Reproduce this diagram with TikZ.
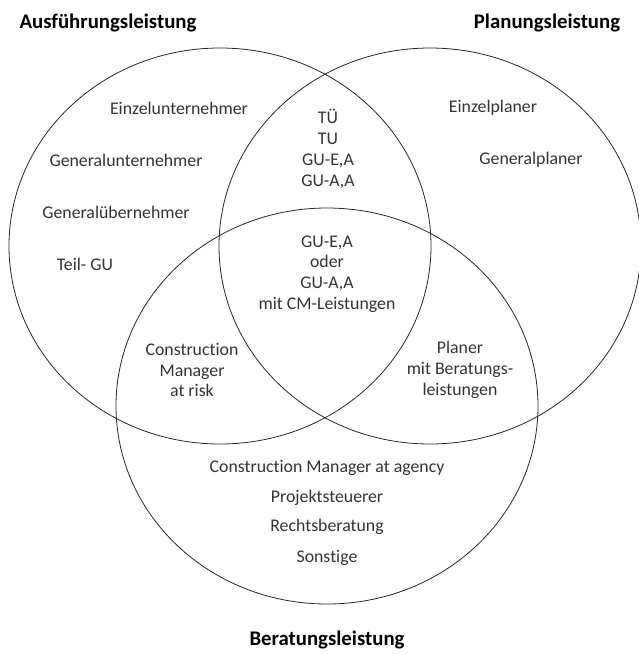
\documentclass[tikz,border=0pt]{standalone}
\usepackage{fontspec}
\setmainfont{Carlito}[Ligatures={NoCommon}]
\usetikzlibrary{shapes.geometric}
\begin{document}
\begin{tikzpicture}[x=1pt,y=-1pt,
  venn/.style={draw=black!85,line width=0.8pt,ellipse,inner sep=0pt,minimum width=422pt,minimum height=396pt},
  lbl/.style={font=\fontsize{17.8}{20.7}\selectfont,text=black!80,align=center,inner sep=0pt},
  ttl/.style={font=\fontsize{20.8}{24}\selectfont\bfseries,text=black,inner sep=0pt}]
\useasboundingbox (0,0) rectangle (639,654);
\node[venn] (A) at (220,246) {};
\node[venn] (P) at (430,246) {};
\node[venn] (B) at (327,406) {};
\node[ttl] (tA) at (108,23) {Ausführungsleistung};
\node[ttl] (tP) at (547,23) {Planungsleistung};
\node[ttl] (tB) at (327,640) {Beratungsleistung};
\node[lbl] (a1) at (179,108) {Einzelunternehmer};
\node[lbl] (a2) at (126,160) {Generalunternehmer};
\node[lbl] (a3) at (116,212) {Generalübernehmer};
\node[lbl] (a4) at (85,264) {Teil- GU};
\node[lbl] (ap) at (328,149) {TÜ\\TU\\GU-E,A\\GU-A,A};
\node[lbl] (apb) at (327,274) {GU-E,A\\oder\\GU-A,A\\mit CM-Leistungen};
\node[lbl] (p1) at (493,108) {Einzelplaner};
\node[lbl] (p2) at (531,160) {Generalplaner};
\node[lbl] (ab) at (192,370) {Construction\\Manager\\at risk};
\node[lbl] (pb) at (460,370) {Planer\\mit Beratungs-\\leistungen};
\node[lbl] (b1) at (327,468) {Construction Manager at agency};
\node[lbl] (b2) at (327,498) {Projektsteuerer};
\node[lbl] (b3) at (327,527) {Rechtsberatung};
\node[lbl] (b4) at (327,558) {Sonstige};
\end{tikzpicture}
\end{document}
